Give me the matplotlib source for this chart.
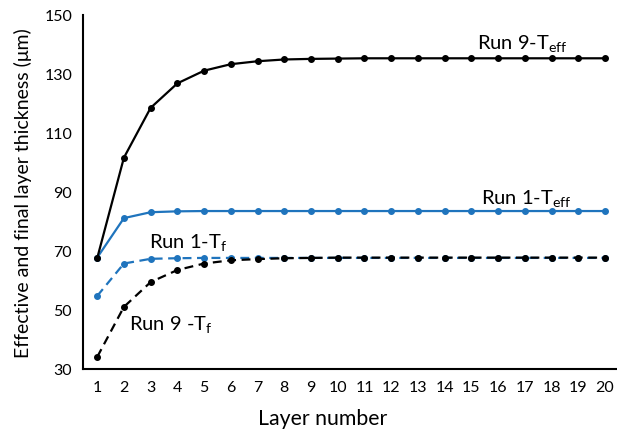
import matplotlib
matplotlib.use("Agg")
import matplotlib.pyplot as plt

# layer index and measured thicknesses (um)
layers = list(range(1, 21))
run9_teff = [67.5, 101.6, 118.5, 126.8, 131.1, 133.3, 134.3, 134.9, 135.1, 135.2,
             135.3, 135.3, 135.3, 135.3, 135.3, 135.3, 135.3, 135.3, 135.3, 135.3]
run1_teff = [67.7, 81.1, 83.1, 83.4, 83.5, 83.5, 83.5, 83.5, 83.5, 83.5,
             83.5, 83.5, 83.5, 83.5, 83.5, 83.5, 83.5, 83.5, 83.5, 83.5]
run1_tf = [54.7, 65.7, 67.3, 67.5, 67.6, 67.6, 67.6, 67.6, 67.6, 67.6,
           67.6, 67.6, 67.6, 67.6, 67.6, 67.6, 67.6, 67.6, 67.6, 67.6]
run9_tf = [34.0, 51.0, 59.4, 63.5, 65.7, 66.8, 67.2, 67.5, 67.6, 67.7,
           67.7, 67.7, 67.7, 67.7, 67.7, 67.7, 67.7, 67.7, 67.7, 67.7]
yticks = [30, 50, 70, 90, 110, 130, 150]

plt.rcParams['font.family'] = ['Lato', 'DejaVu Sans']
plt.rcParams['mathtext.fontset'] = 'custom'
plt.rcParams['mathtext.rm'] = 'Lato'
plt.rcParams['mathtext.it'] = 'Lato'

blue = '#1f74bd'
fig = plt.figure(figsize=(6.17, 4.31), dpi=100)
ax = fig.add_axes([0.135, 0.142, 0.865, 0.821])

ax.plot(layers, run1_tf, color=blue, lw=1.6, ls=(0, (4, 2.5)), marker='o', ms=4)
ax.plot(layers, run9_tf, color='black', lw=1.6, ls=(0, (4, 2.5)), marker='o', ms=4)
ax.plot(layers, run1_teff, color=blue, lw=1.6, marker='o', ms=4)
ax.plot(layers, run9_teff, color='black', lw=1.6, marker='o', ms=4)

# series labels placed next to the curves
fs = 14.5
ax.text(16.9, 140.5, r'Run 9-T$_{\mathrm{eff}}$', fontsize=fs, ha='center', va='center')
ax.text(17.05, 88.2, r'Run 1-T$_{\mathrm{eff}}$', fontsize=fs, ha='center', va='center')
ax.text(4.4, 73.3, r'Run 1-T$_{\mathrm{f}}$', fontsize=fs, ha='center', va='center')
ax.text(3.75, 45.5, r'Run 9 -T$_{\mathrm{f}}$', fontsize=fs, ha='center', va='center')

ax.set_xlim(0.48, 20.45)
ax.set_ylim(30, 150)
ax.set_xticks(layers)
ax.set_yticks(yticks)
ax.tick_params(length=0, labelsize=11.5, pad=8)
ax.spines['top'].set_visible(False)
ax.spines['right'].set_visible(False)
ax.spines['left'].set_linewidth(1.5)
ax.spines['bottom'].set_linewidth(1.5)
ax.set_xlabel('Layer number', fontsize=15.3)
ax.xaxis.set_label_coords(0.449, -0.112)
ax.set_ylabel('Effective and final layer thickness (μm)', fontsize=14, labelpad=9)

fig.savefig('out.png', dpi=100)
